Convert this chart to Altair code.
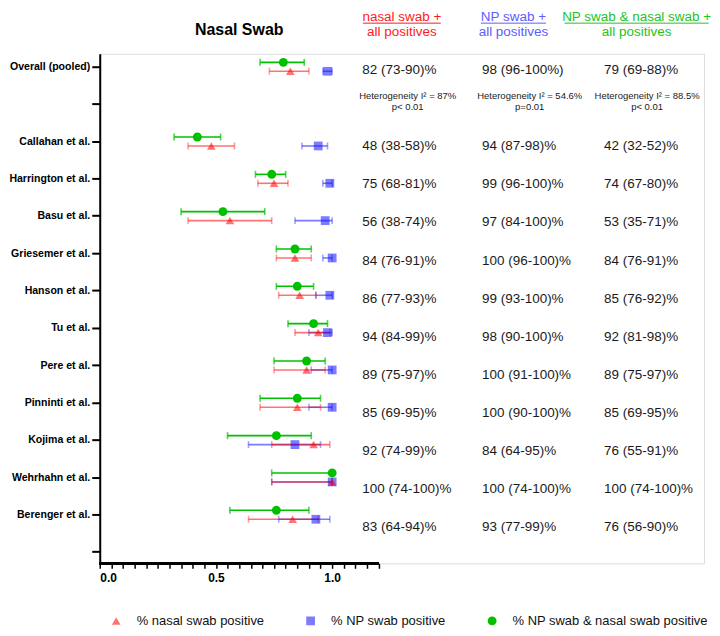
import altair as alt
import pandas as pd

# ---------------- data ----------------
studies = ["Overall (pooled)", "Callahan et al.", "Harrington et al.", "Basu et al.",
           "Griesemer et al.", "Hanson et al.", "Tu et al.", "Pere et al.",
           "Pinninti et al.", "Kojima et al.", "Wehrhahn et al.", "Berenger et al."]
row_index = [0, 2, 3, 4, 5, 6, 7, 8, 9, 10, 11, 12]
axis_labels = ["Overall (pooled)", "", "Callahan et al.", "Harrington et al.", "Basu et al.",
               "Griesemer et al.", "Hanson et al.", "Tu et al.", "Pere et al.",
               "Pinninti et al.", "Kojima et al.", "Wehrhahn et al.", "Berenger et al.", ""]

series_names = ["% nasal swab positive", "% NP swab positive", "% NP swab & nasal swab positive"]

nasal_est = [0.82, 0.48, 0.75, 0.56, 0.84, 0.86, 0.94, 0.89, 0.85, 0.92, 1.00, 0.83]
nasal_lo = [0.73, 0.38, 0.68, 0.38, 0.76, 0.77, 0.84, 0.75, 0.69, 0.74, 0.74, 0.64]
nasal_hi = [0.90, 0.58, 0.81, 0.74, 0.91, 0.93, 0.99, 0.97, 0.95, 0.99, 1.00, 0.94]

np_est = [0.98, 0.94, 0.99, 0.97, 1.00, 0.99, 0.98, 1.00, 1.00, 0.84, 1.00, 0.93]
np_lo = [0.96, 0.87, 0.96, 0.84, 0.96, 0.93, 0.90, 0.91, 0.90, 0.64, 0.74, 0.77]
np_hi = [1.00, 0.98, 1.00, 1.00, 1.00, 1.00, 1.00, 1.00, 1.00, 0.95, 1.00, 0.99]

both_est = [0.79, 0.42, 0.74, 0.53, 0.84, 0.85, 0.92, 0.89, 0.85, 0.76, 1.00, 0.76]
both_lo = [0.69, 0.32, 0.67, 0.35, 0.76, 0.76, 0.81, 0.75, 0.69, 0.55, 0.74, 0.56]
both_hi = [0.88, 0.52, 0.80, 0.71, 0.91, 0.92, 0.98, 0.97, 0.95, 0.91, 1.00, 0.90]

nasal_txt = ["82 (73-90)%", "48 (38-58)%", "75 (68-81)%", "56 (38-74)%", "84 (76-91)%",
             "86 (77-93)%", "94 (84-99)%", "89 (75-97)%", "85 (69-95)%", "92 (74-99)%",
             "100 (74-100)%", "83 (64-94)%"]
np_txt = ["98 (96-100%)", "94 (87-98)%", "99 (96-100)%", "97 (84-100)%", "100 (96-100)%",
          "99 (93-100)%", "98 (90-100)%", "100 (91-100)%", "100 (90-100)%", "84 (64-95)%",
          "100 (74-100)%", "93 (77-99)%"]
both_txt = ["79 (69-88)%", "42 (32-52)%", "74 (67-80)%", "53 (35-71)%", "84 (76-91)%",
            "85 (76-92)%", "92 (81-98)%", "89 (75-97)%", "85 (69-95)%", "76 (55-91)%",
            "100 (74-100)%", "76 (56-90)%"]

header_line1 = ["nasal swab +", "NP swab +", "NP swab & nasal swab +"]
header_line2 = ["all positives", "all positives", "all positives"]
het_line1 = ["Heterogeneity I\u00b2 = 87%", "Heterogeneity I\u00b2 = 54.6%", "Heterogeneity I\u00b2 = 88.5%"]
het_line2 = ["p< 0.01", "p=0.01", "p< 0.01"]

# ---------------- style / layout ----------------
FONT = "Liberation Sans"
series_colors = ["rgba(255,0,0,0.55)", "rgba(16,16,255,0.55)", "#00c000"]
series_shapes = ["triangle-up", "square", "circle"]
series_sizes = [75, 80, 65]
series_dy = [0.13, 0.13, -0.11]
header_colors = ["#ff1a1a", "#5c5cff", "#22c422"]
col_text_x = [1.13, 1.645, 2.17]
col_head_x = [1.30, 1.78, 2.31]
col_head_w = [0.335, 0.28, 0.62]
col_het_x = [1.325, 1.85, 2.355]

W, H = 606, 511
xs = alt.Scale(domain=[0, 2.6], nice=False, zero=False)
ys = alt.Scale(domain=[-0.34, 13.31], reverse=True, nice=False, zero=False)

# ---------------- tables ----------------
recs = []
for k, (est, lo, hi) in [(2, (both_est, both_lo, both_hi)),
                         (1, (np_est, np_lo, np_hi)),
                         (0, (nasal_est, nasal_lo, nasal_hi))]:
    for i, st in enumerate(studies):
        recs.append(dict(series=series_names[k], study=st, ypos=row_index[i] + series_dy[k],
                         est=est[i], lo=lo[i], hi=hi[i]))
df = pd.DataFrame(recs)

trecs = []
for c, txts in enumerate([nasal_txt, np_txt, both_txt]):
    for i, t in enumerate(txts):
        trecs.append(dict(x=col_text_x[c], y=row_index[i] * 1.02 + 0.1, t=t))
df_txt = pd.DataFrame(trecs)

hrecs, urecs = [], []
for c in range(3):
    hrecs.append(dict(x=col_head_x[c], y=-1.33, t=header_line1[c], col=header_colors[c]))
    hrecs.append(dict(x=col_head_x[c], y=-0.93, t=header_line2[c], col=header_colors[c]))
    urecs.append(dict(x=col_head_x[c] - col_head_w[c] / 2, x2=col_head_x[c] + col_head_w[c] / 2,
                      y=-1.16, col=header_colors[c]))
df_head = pd.DataFrame(hrecs)
df_ul = pd.DataFrame(urecs)

erecs = []
for c in range(3):
    erecs.append(dict(x=col_het_x[c], y=0.78, t=het_line1[c]))
    erecs.append(dict(x=col_het_x[c], y=1.10, t=het_line2[c]))
df_het = pd.DataFrame(erecs)

# ---------------- axes ----------------
x_ticks = [round(0.05 * i, 2) for i in range(25)]
y_label_expr = "[" + ",".join("'" + s + "'" for s in axis_labels) + "][datum.value]"

x_axis = alt.Axis(values=x_ticks, domain=False, grid=False, tickSize=5, tickWidth=1.5,
                  tickColor="#000", labelOverlap=False,
                  labelExpr="(datum.value == 0 || datum.value == 0.5 || datum.value == 1) ? format(datum.value, '.1f') : ''",
                  labelFont=FONT, labelFontSize=12, labelFontWeight="bold", labelColor="#000",
                  labelPadding=4, title=None)
y_axis = alt.Axis(values=list(range(14)), labelExpr=y_label_expr, grid=False, tickSize=8,
                  tickWidth=2, tickColor="#000", domainColor="#000", domainWidth=2,
                  labelOverlap=False,
                  labelFont=FONT, labelFontSize=10.6, labelFontWeight="bold", labelColor="#000",
                  labelPadding=2, title=None)

X = lambda f: alt.X(f, scale=xs, axis=x_axis)
Y = lambda f: alt.Y(f, scale=ys, axis=y_axis)

# ---------------- layers ----------------
layers = []
for k in [2, 1, 0]:
    sub = alt.Chart(df).transform_filter(alt.datum.series == series_names[k])
    layers.append(sub.mark_rule(strokeWidth=1.6, color=series_colors[k]).encode(
        x=X("lo:Q"), x2="hi:Q", y=Y("ypos:Q")))
    layers.append(sub.transform_fold(["lo", "hi"], as_=["end", "xv"]).mark_tick(
        orient="vertical", size=7, thickness=1.6, color=series_colors[k]).encode(
        x=X("xv:Q"), y=Y("ypos:Q")))

legend = alt.Legend(title=None, orient="none", legendX=10, legendY=562, direction="horizontal",
                    labelFont=FONT, labelFontSize=13, labelColor="#111", symbolSize=60,
                    labelOffset=14, columnPadding=40, symbolStrokeWidth=0, padding=0,
                    labelLimit=400, symbolOpacity=1)

points = alt.Chart(df).mark_point(filled=True, strokeWidth=0, opacity=1).encode(
    x=X("est:Q"), y=Y("ypos:Q"),
    color=alt.Color("series:N", scale=alt.Scale(domain=series_names, range=series_colors), legend=legend),
    shape=alt.Shape("series:N", scale=alt.Scale(domain=series_names, range=series_shapes), legend=legend),
    size=alt.Size("series:N", scale=alt.Scale(domain=series_names, range=series_sizes), legend=None))
layers.append(points)

x_line = alt.Chart(df).mark_rule(strokeWidth=2, color="#000").encode(
    x=alt.datum(0, scale=xs, axis=x_axis), x2=alt.datum(1.2), y=alt.value(H))
layers.append(x_line)

vals = alt.Chart(df_txt).mark_text(align="left", baseline="middle", font=FONT, fontSize=13.5,
                                   color="#1a1a1a").encode(x=X("x:Q"), y=Y("y:Q"), text="t:N")
heads = alt.Chart(df_head).mark_text(align="center", baseline="middle", font=FONT,
                                     fontSize=13.5).encode(
    x=X("x:Q"), y=Y("y:Q"), text="t:N", color=alt.Color("col:N", scale=None))
ulines = alt.Chart(df_ul).mark_rule(strokeWidth=1).encode(
    x=X("x:Q"), x2="x2:Q", y=Y("y:Q"), color=alt.Color("col:N", scale=None))
hets = alt.Chart(df_het).mark_text(align="center", baseline="middle", font=FONT, fontSize=9.5,
                                   color="#1a1a1a").encode(x=X("x:Q"), y=Y("y:Q"), text="t:N")
title = alt.Chart(pd.DataFrame({"t": ["Nasal Swab"]})).mark_text(
    align="center", baseline="middle", font=FONT, fontSize=16, fontWeight="bold", color="#000").encode(
    x=alt.datum(0.6, scale=xs, axis=x_axis), y=alt.datum(-0.97, scale=ys, axis=y_axis), text="t:N")
layers += [vals, heads, ulines, hets, title]

chart = alt.layer(*layers).properties(
    width=W, height=H, padding=0
).configure_view(stroke=None).configure(font=FONT)

chart.save("out.html", embed_options={"renderer": "svg", "actions": False})
